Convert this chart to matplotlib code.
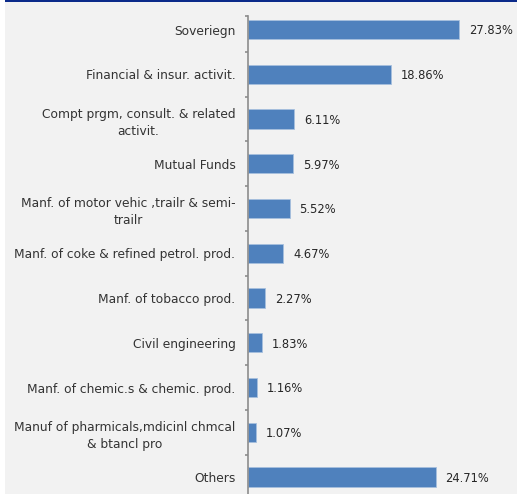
"""Sector allocation bar chart."""

import matplotlib.pyplot as plt
from matplotlib.patches import Rectangle

categories = [
    "Soveriegn",
    "Financial & insur. activit.",
    "Compt prgm, consult. & related\nactivit.",
    "Mutual Funds",
    "Manf. of motor vehic ,trailr & semi-\ntrailr",
    "Manf. of coke & refined petrol. prod.",
    "Manf. of tobacco prod.",
    "Civil engineering",
    "Manf. of chemic.s & chemic. prod.",
    "Manuf of pharmicals,mdicinl chmcal\n& btancl pro",
    "Others",
]
values = [27.83, 18.86, 6.11, 5.97, 5.52, 4.67, 2.27, 1.83, 1.16, 1.07, 24.71]
value_labels = ["27.83%", "18.86%", "6.11%", "5.97%", "5.52%", "4.67%",
                "2.27%", "1.83%", "1.16%", "1.07%", "24.71%"]

W, H = 519, 494
fig = plt.figure(figsize=(W / 100, H / 100), dpi=100)
fig.patch.set_facecolor("white")

# panel background + top rule
fig.add_artist(Rectangle((5 / W, 0), 512 / W, 492 / H, transform=fig.transFigure,
                         facecolor="#F2F2F2", edgecolor="none", zorder=0))
fig.add_artist(Rectangle((5 / W, 492 / H), 512 / W, 2 / H, transform=fig.transFigure,
                         facecolor="#0B2A8A", edgecolor="none", zorder=0))

ax_left, ax_right, ax_top = 248, 515, 16
ax = fig.add_axes([ax_left / W, 0, (ax_right - ax_left) / W, 1 - ax_top / H])
ax.set_facecolor("none")

pos = list(range(len(categories)))
ax.barh(pos, values, height=0.43, color="#4F81BD", edgecolor="#A7C0DE",
        linewidth=0.6, zorder=2)

ytop = -0.5 + 8.8 / 44.75
ybot = 10 + 17 / 44.75
ax.set_ylim(ybot, ytop)
ax.set_xlim(0, (ax_right - ax_left) / 7.59)

for p, v, lab in zip(pos, values, value_labels):
    ax.annotate(lab, (v, p), xytext=(7, -1), textcoords="offset points",
                ha="left", va="center", fontsize=8.3, color="#262626")

ax.set_yticks(pos)
ax.set_yticklabels(categories, fontsize=8.8, color="#333333", ha="right",
                   multialignment="center", linespacing=1.4)
ax.tick_params(axis="y", which="major", length=0, pad=9)
ax.set_yticks([ytop] + [i + 0.5 for i in range(10)], minor=True)
ax.tick_params(axis="y", which="minor", length=2.5, width=1.2, color="#8C8C8C",
               direction="out")
ax.set_xticks([])
for s in ["top", "right", "bottom"]:
    ax.spines[s].set_visible(False)
ax.spines["left"].set_color("#8C8C8C")
ax.spines["left"].set_linewidth(1.2)

fig.savefig("out.png", dpi=100)
